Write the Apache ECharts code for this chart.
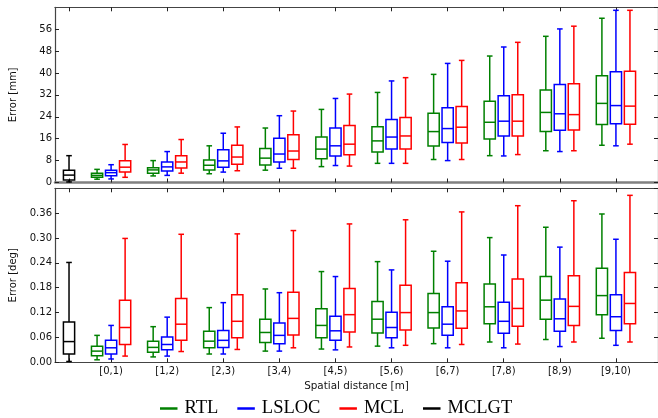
<!DOCTYPE html>
<html>
<head>
<meta charset="utf-8">
<script src="https://cdn.jsdelivr.net/npm/echarts@6/dist/echarts.min.js"></script>
<style>
  html, body { margin: 0; padding: 0; background: #fff; }
  #chart { width: 658px; height: 418px; }
</style>
</head>
<body>
<div id="chart"></div>
<script>
// Distance bins shown on the x axis
const categories = ['[0,1)', '[1,2)', '[2,3)', '[3,4)', '[4,5)', '[5,6)', '[6,7)', '[7,8)', '[8,9)', '[9,10)'];

// Five-number summaries per bin: [lower whisker, Q1, median, Q3, upper whisker]
// Position error [mm]
const rtlMm = [
  [1.2, 1.9, 2.6, 3.4, 4.8], [2.4, 3.4, 4.6, 5.4, 8.0], [3.2, 4.6, 6.3, 8.2, 13.4],
  [4.5, 6.4, 8.9, 12.4, 19.9], [5.8, 8.7, 12.2, 16.6, 26.7], [7.0, 11.1, 15.2, 20.4, 32.9],
  [8.4, 13.3, 18.6, 25.3, 39.5], [9.8, 15.9, 22.0, 29.7, 46.2], [11.6, 18.6, 25.6, 33.8, 53.4],
  [13.6, 21.2, 28.9, 39.0, 60.0]
];
const lslocMm = [
  [1.3, 2.5, 3.6, 4.5, 6.5], [2.6, 4.2, 5.7, 7.5, 11.3], [3.8, 5.6, 7.9, 12.0, 18.0],
  [5.2, 7.5, 10.4, 16.2, 24.4], [6.2, 9.7, 13.4, 19.9, 30.7], [7.0, 12.2, 16.6, 23.0, 37.1],
  [8.0, 14.6, 19.7, 27.3, 43.5], [9.7, 17.0, 22.4, 31.7, 49.5], [11.3, 19.1, 25.1, 35.8, 56.1],
  [13.4, 21.5, 28.1, 40.5, 62.9]
];
const mclMm = [
  [1.9, 3.8, 5.6, 7.9, 13.9], [3.4, 5.3, 7.5, 9.8, 15.7], [4.3, 6.7, 9.3, 13.6, 20.3],
  [5.2, 8.4, 11.5, 17.4, 26.1], [6.0, 10.1, 14.0, 20.8, 32.3], [7.0, 12.2, 17.0, 23.7, 38.3],
  [8.4, 14.4, 20.2, 27.8, 44.6], [10.2, 17.0, 22.4, 32.1, 51.2], [11.6, 19.2, 24.8, 36.1, 57.1],
  [14.0, 21.3, 27.9, 40.6, 62.9]
];
const mclgtMm = [0.2, 0.9, 2.7, 4.5, 9.8];

// Orientation error [deg]
const rtlDeg = [
  [0.006, 0.016, 0.027, 0.039, 0.065], [0.013, 0.024, 0.036, 0.051, 0.086], [0.020, 0.035, 0.051, 0.075, 0.132],
  [0.027, 0.048, 0.072, 0.104, 0.177], [0.032, 0.059, 0.089, 0.129, 0.219], [0.039, 0.071, 0.104, 0.147, 0.243],
  [0.045, 0.083, 0.120, 0.166, 0.268], [0.049, 0.093, 0.134, 0.189, 0.301], [0.055, 0.104, 0.150, 0.207, 0.326],
  [0.058, 0.115, 0.161, 0.227, 0.358]
];
const lslocDeg = [
  [0.008, 0.020, 0.035, 0.053, 0.089], [0.015, 0.030, 0.043, 0.061, 0.109], [0.020, 0.036, 0.053, 0.077, 0.144],
  [0.027, 0.045, 0.065, 0.095, 0.168], [0.030, 0.053, 0.076, 0.111, 0.207], [0.035, 0.059, 0.084, 0.121, 0.223],
  [0.035, 0.065, 0.092, 0.134, 0.244], [0.035, 0.070, 0.099, 0.145, 0.259], [0.038, 0.075, 0.105, 0.153, 0.278],
  [0.041, 0.077, 0.110, 0.163, 0.297]
];
const mclDeg = [
  [0.015, 0.043, 0.084, 0.150, 0.299], [0.026, 0.053, 0.092, 0.154, 0.309], [0.031, 0.059, 0.099, 0.163, 0.310],
  [0.035, 0.066, 0.106, 0.169, 0.318], [0.037, 0.073, 0.115, 0.178, 0.334], [0.041, 0.078, 0.120, 0.186, 0.344],
  [0.043, 0.082, 0.124, 0.192, 0.363], [0.044, 0.087, 0.130, 0.201, 0.378], [0.049, 0.089, 0.135, 0.209, 0.390],
  [0.049, 0.093, 0.142, 0.217, 0.403]
];
const mclgtDeg = [0.002, 0.020, 0.050, 0.097, 0.241];

const COLORS = { RTL: '#008000', LSLOC: '#0000ff', MCL: '#ff0000', MCLGT: '#000000' };
const BOX_W = 0.2;   // box width in x-axis units
const CAP_W = 0.1;   // whisker cap width in x-axis units
const MCLGT_POS = 0.25;

const chart = echarts.init(document.getElementById('chart'), null, { renderer: 'canvas' });

function boxRenderer(color) {
  return function (params, api) {
    const x = api.value(0);
    const pt = i => api.coord([x, api.value(i)]);
    const half = api.size([BOX_W / 2, 0])[0];
    const cap = api.size([CAP_W / 2, 0])[0];
    const lo = pt(1), q1 = pt(2), md = pt(3), q3 = pt(4), hi = pt(5);
    const cx = lo[0];
    const style = { stroke: color, lineWidth: 1.5, fill: 'none' };
    const line = (x1, y1, x2, y2) => ({ type: 'line', shape: { x1, y1, x2, y2 }, style });
    return {
      type: 'group',
      children: [
        line(cx, lo[1], cx, q1[1]),
        line(cx, q3[1], cx, hi[1]),
        line(cx - cap, lo[1], cx + cap, lo[1]),
        line(cx - cap, hi[1], cx + cap, hi[1]),
        { type: 'rect', shape: { x: cx - half, y: q3[1], width: 2 * half, height: q1[1] - q3[1] }, style },
        line(cx - half, md[1], cx + half, md[1])
      ]
    };
  };
}

function rows(stats, offset) {
  return stats.map((s, i) => [i + 1 + offset].concat(s));
}

function boxSeries(name, data, panel) {
  return {
    name,
    type: 'custom',
    // each panel owns two x axes and two y axes; the first of each pair carries the data
    xAxisIndex: panel * 2,
    yAxisIndex: panel * 2,
    itemStyle: { color: COLORS[name] },
    renderItem: boxRenderer(COLORS[name]),
    encode: { x: 0, y: [1, 2, 3, 4, 5] },
    data,
    silent: true,
    animation: false
  };
}

const tickPositions = [MCLGT_POS].concat(categories.map((c, i) => i + 1));
const labelPositions = categories.map((c, i) => i + 1);
const FONT = 'DejaVu Sans';
const spine = { show: true, onZero: false, lineStyle: { color: '#444', width: 1.2 } };
const innerTick = { show: true, inside: true, length: 4, lineStyle: { color: '#222', width: 1 } };

function xAxisPair(gridIndex, withLabels, bottomLine) {
  const common = { type: 'value', gridIndex, min: 0, max: 10.75, splitLine: { show: false } };
  return [
    Object.assign({}, common, {
      position: 'bottom',
      axisLine: bottomLine,
      axisTick: Object.assign({}, innerTick, { customValues: tickPositions }),
      axisLabel: withLabels ? {
        show: true, customValues: labelPositions, margin: 4,
        fontFamily: FONT, fontSize: 10, color: '#111',
        formatter: v => categories[Math.round(v) - 1] || ''
      } : { show: false },
      name: withLabels ? 'Spatial distance [m]' : '',
      nameLocation: 'middle', nameGap: 19,
      nameTextStyle: { fontFamily: FONT, fontSize: 10.4, color: '#111' }
    }),
    Object.assign({}, common, {
      position: 'top',
      axisLine: spine,
      axisTick: Object.assign({}, innerTick, { customValues: tickPositions }),
      axisLabel: { show: false }
    })
  ];
}

function yAxisPair(gridIndex, max, interval, digits, name) {
  const common = { type: 'value', gridIndex, min: 0, max, interval, splitLine: { show: false } };
  return [
    Object.assign({}, common, {
      position: 'left',
      axisLine: spine,
      axisTick: innerTick,
      axisLabel: {
        margin: 3, fontFamily: FONT, fontSize: 10, color: '#111', showMaxLabel: false,
        formatter: v => v.toFixed(digits)
      },
      name, nameLocation: 'middle', nameGap: 37,
      nameTextStyle: { fontFamily: FONT, fontSize: 10, color: '#111' }
    }),
    Object.assign({}, common, {
      position: 'right',
      axisLine: spine,
      axisTick: innerTick,
      axisLabel: { show: false }
    })
  ];
}

const gridLeft = 54.3;
const gridWidth = 606.7;

const option = {
  backgroundColor: '#ffffff',
  animation: false,
  grid: [
    { left: gridLeft, top: 7.3, width: gridWidth, height: 175.2 },
    { left: gridLeft, top: 188.3, width: gridWidth, height: 174 }
  ],
  xAxis: xAxisPair(0, false, { show: true, onZero: false, lineStyle: { color: '#808080', width: 2.5 } })
    .concat(xAxisPair(1, true, spine)),
  yAxis: yAxisPair(0, 64, 8, 0, 'Error [mm]').concat(yAxisPair(1, 0.42, 0.06, 2, 'Error [deg]')),
  legend: {
    left: 155, top: 394,
    icon: 'rect', itemWidth: 17.5, itemHeight: 2.5, itemGap: 19,
    textStyle: { fontFamily: 'Liberation Serif', fontSize: 18.5, color: '#000', padding: [0, 0, 0, 2] },
    data: ['RTL', 'LSLOC', 'MCL', 'MCLGT'].map(n => ({ name: n, itemStyle: { color: COLORS[n] } }))
  },
  series: [
    boxSeries('RTL', rows(rtlMm, -0.25), 0),
    boxSeries('LSLOC', rows(lslocMm, 0), 0),
    boxSeries('MCL', rows(mclMm, 0.25), 0),
    boxSeries('MCLGT', [[MCLGT_POS].concat(mclgtMm)], 0),
    boxSeries('RTL', rows(rtlDeg, -0.25), 1),
    boxSeries('LSLOC', rows(lslocDeg, 0), 1),
    boxSeries('MCL', rows(mclDeg, 0.25), 1),
    boxSeries('MCLGT', [[MCLGT_POS].concat(mclgtDeg)], 1)
  ]
};

chart.setOption(option);
</script>
</body>
</html>
